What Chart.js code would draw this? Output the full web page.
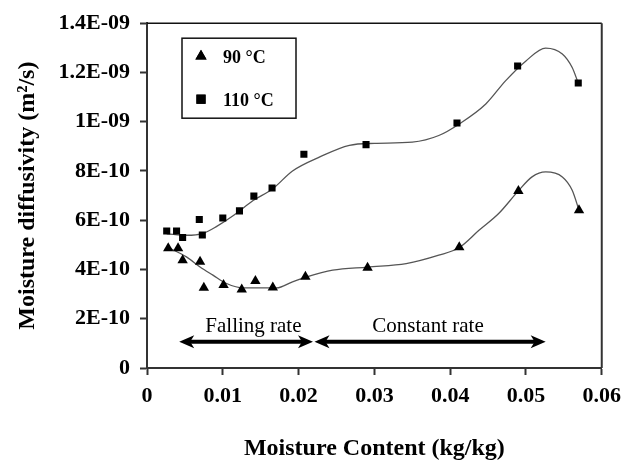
<!DOCTYPE html>
<html lang="en">
<head>
<meta charset="UTF-8">
<title>Moisture diffusivity vs moisture content</title>
<script src="https://cdn.jsdelivr.net/npm/chart.js@4.4.0/dist/chart.umd.min.js"></script>
<style>
  html, body { margin: 0; padding: 0; background: #fff; }
  #wrap { width: 629px; height: 461px; }
</style>
</head>
<body>
<div id="wrap"><canvas id="chart" width="629" height="461"></canvas></div>
<script>
  // measured points: moisture content (kg/kg) vs diffusivity (m2/s)
  const mc90  = [0.0028, 0.0041, 0.0047, 0.0070, 0.0075, 0.0101, 0.0125, 0.0143, 0.0166, 0.0209, 0.0291, 0.0412, 0.0490, 0.0570];
  const d90   = [4.86e-10, 4.86e-10, 4.38e-10, 4.31e-10, 3.26e-10, 3.37e-10, 3.19e-10, 3.53e-10, 3.27e-10, 3.70e-10, 4.07e-10, 4.90e-10, 7.19e-10, 6.41e-10];
  const mc110 = [0.0026, 0.0039, 0.0047, 0.0069, 0.0073, 0.0100, 0.0122, 0.0141, 0.0165, 0.0207, 0.0289, 0.0409, 0.0489, 0.0569];
  const d110  = [5.56e-10, 5.56e-10, 5.30e-10, 6.03e-10, 5.40e-10, 6.09e-10, 6.38e-10, 6.98e-10, 7.31e-10, 8.68e-10, 9.07e-10, 9.95e-10, 12.26e-10, 11.57e-10];

  // smoothed trend curves
  const fitMc90  = [0.0026, 0.0052, 0.0070, 0.0087, 0.0105, 0.0127, 0.0171, 0.0192, 0.0209, 0.0245, 0.0291, 0.0342, 0.0385, 0.0412, 0.0438, 0.0464, 0.0490, 0.0508, 0.0526, 0.0548, 0.0561, 0.0570];
  const fitD90   = [4.92e-10, 4.51e-10, 4.10e-10, 3.77e-10, 3.43e-10, 3.25e-10, 3.25e-10, 3.50e-10, 3.68e-10, 3.97e-10, 4.10e-10, 4.24e-10, 4.58e-10, 4.89e-10, 5.59e-10, 6.27e-10, 7.19e-10, 7.76e-10, 7.96e-10, 7.76e-10, 7.22e-10, 6.41e-10];
  const fitMc110 = [0.0026, 0.0052, 0.0074, 0.0092, 0.0114, 0.0140, 0.0166, 0.0192, 0.0228, 0.0267, 0.0300, 0.0350, 0.0385, 0.0412, 0.0447, 0.0473, 0.0500, 0.0526, 0.0548, 0.0561, 0.0569];
  const fitD110  = [5.45e-10, 5.39e-10, 5.47e-10, 5.75e-10, 6.19e-10, 6.80e-10, 7.28e-10, 8.00e-10, 8.57e-10, 9.04e-10, 9.12e-10, 9.17e-10, 9.44e-10, 9.91e-10, 10.72e-10, 11.66e-10, 12.47e-10, 12.99e-10, 12.75e-10, 12.20e-10, 11.57e-10];

  const xTickLabels = ['0', '0.01', '0.02', '0.03', '0.04', '0.05', '0.06'];
  const yTickLabels = ['0', '2E-10', '4E-10', '6E-10', '8E-10', '1E-09', '1.2E-09', '1.4E-09'];
  const seriesNames = ['90 °C', '110 °C'];

  // drying period annotations
  const rateLabels = ['Falling rate', 'Constant rate'];
  const rateLabelX = [0.01404, 0.03708];
  const rateLabelY = 1.46e-10;
  const rateArrowFrom = [0.00425, 0.0221];
  const rateArrowTo = [0.0219, 0.0526];
  const rateArrowY = 1.065e-10;

  const serif = "'Liberation Serif', 'Times New Roman', serif";
  const tickFont = { family: serif, size: 22, weight: 'bold' };
  const titleFont = { family: serif, size: 24, weight: 'bold', lineHeight: 1 };

  const toXY = (xs, ys) => xs.map((x, i) => ({ x, y: ys[i] }));

  function arrowHead(ctx, tipX, y, dir) {
    ctx.beginPath();
    ctx.moveTo(tipX, y);
    ctx.lineTo(tipX - dir * 15, y - 6.5);
    ctx.lineTo(tipX - dir * 11, y);
    ctx.lineTo(tipX - dir * 15, y + 6.5);
    ctx.closePath();
    ctx.fill();
  }

  const extrasPlugin = {
    id: 'extras',
    afterDatasetsDraw(chart) {
      const { ctx, chartArea: a, scales: { x, y } } = chart;
      ctx.save();

      // frame top + right
      ctx.strokeStyle = '#111';
      ctx.lineWidth = 1.5;
      ctx.beginPath();
      ctx.moveTo(a.left, a.top);
      ctx.lineTo(a.right, a.top);
      ctx.stroke();
      ctx.strokeStyle = '#333';
      ctx.lineWidth = 2;
      ctx.beginPath();
      ctx.moveTo(a.right, a.top);
      ctx.lineTo(a.right, a.bottom);
      ctx.stroke();

      // arrows + labels
      ctx.fillStyle = '#000';
      ctx.strokeStyle = '#000';
      ctx.lineWidth = 4;
      const ay = y.getPixelForValue(rateArrowY);
      rateArrowFrom.forEach((from, i) => {
        const x0 = x.getPixelForValue(from);
        const x1 = x.getPixelForValue(rateArrowTo[i]);
        ctx.beginPath();
        ctx.moveTo(x0 + 8, ay);
        ctx.lineTo(x1 - 8, ay);
        ctx.stroke();
        arrowHead(ctx, x0, ay, -1);
        arrowHead(ctx, x1, ay, 1);
      });
      ctx.font = '21px ' + serif;
      ctx.textAlign = 'center';
      ctx.textBaseline = 'alphabetic';
      rateLabels.forEach((t, i) => {
        ctx.fillText(t, x.getPixelForValue(rateLabelX[i]), y.getPixelForValue(rateLabelY));
      });

      // legend box
      const lx = a.left + 35, ly = a.top + 15;
      ctx.lineWidth = 1.5;
      ctx.strokeStyle = '#111';
      ctx.strokeRect(lx, ly, 114, 80);
      ctx.font = 'bold 18px ' + serif;
      ctx.textAlign = 'left';
      ctx.textBaseline = 'middle';
      const styles = [['triangle', 6.5], ['rect', 6.5]];
      seriesNames.forEach((name, i) => {
        const my = ly + 18 + i * 43;
        Chart.helpers.drawPoint(ctx, { pointStyle: styles[i][0], radius: styles[i][1], borderWidth: 0 }, lx + 19, my);
        ctx.fill();
        ctx.fillText(name, lx + 41, my + 2);
      });
      ctx.restore();
    }
  };

  new Chart(document.getElementById('chart'), {
    type: 'scatter',
    data: {
      datasets: [
        { label: seriesNames[0], data: toXY(mc90, d90), pointStyle: 'triangle', pointRadius: 6, backgroundColor: '#000', borderColor: '#000', borderWidth: 0 },
        { label: seriesNames[1], data: toXY(mc110, d110), pointStyle: 'rect', pointRadius: 5, backgroundColor: '#000', borderColor: '#000', borderWidth: 0 },
        { label: 'trend 90', type: 'line', data: toXY(fitMc90, fitD90), showLine: true, pointRadius: 0, borderColor: '#555', borderWidth: 1.3, cubicInterpolationMode: 'monotone', fill: false },
        { label: 'trend 110', type: 'line', data: toXY(fitMc110, fitD110), showLine: true, pointRadius: 0, borderColor: '#555', borderWidth: 1.3, cubicInterpolationMode: 'monotone', fill: false }
      ]
    },
    options: {
      responsive: false,
      animation: false,
      layout: { padding: { top: 22, right: 26, left: 0, bottom: 0 } },
      plugins: { legend: { display: false }, tooltip: { enabled: false } },
      scales: {
        x: {
          type: 'linear',
          min: 0, max: 0.06,
          afterFit: s => { s.height = 93; },
          ticks: { stepSize: 0.01, color: '#000', font: tickFont, padding: 8, maxRotation: 0, callback: (v, i) => xTickLabels[i] },
          grid: { display: true, drawOnChartArea: false, drawTicks: true, tickLength: 7, tickColor: '#333', tickWidth: 2 },
          border: { display: true, color: '#333', width: 2 },
          title: { display: true, text: 'Moisture Content (kg/kg)', color: '#000', font: titleFont, padding: { top: 0, bottom: 0 } }
        },
        y: {
          min: 0, max: 1.4e-9,
          afterFit: s => { s.width = 147; },
          ticks: { stepSize: 2e-10, color: '#000', font: tickFont, padding: 10, callback: (v, i) => yTickLabels[i] },
          grid: { display: true, drawOnChartArea: false, drawTicks: true, tickLength: 7, tickColor: '#333', tickWidth: 2 },
          border: { display: true, color: '#333', width: 2 },
          title: { display: true, text: 'Moisture diffusivity (m²/s)', color: '#000', font: titleFont, padding: { top: 16, bottom: 0 } }
        }
      }
    },
    plugins: [extrasPlugin]
  });
</script>
</body>
</html>
